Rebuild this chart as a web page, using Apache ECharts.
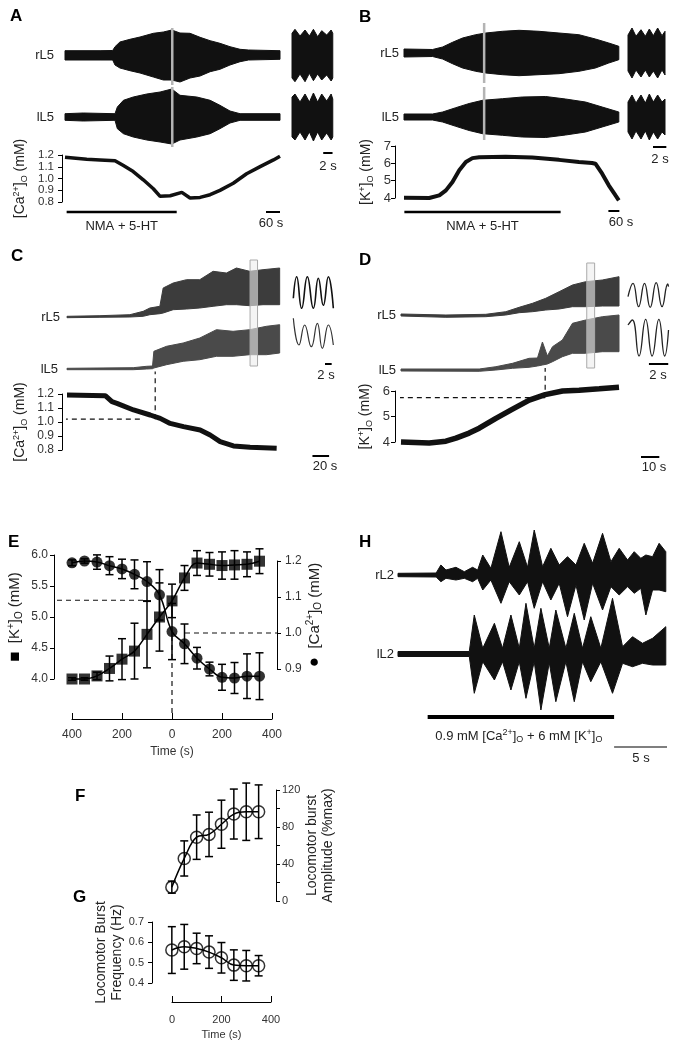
<!DOCTYPE html>
<html><head><meta charset="utf-8">
<script src="https://cdn.jsdelivr.net/npm/echarts/dist/echarts.min.js"></script>
<style>html,body{margin:0;padding:0;background:#fff}#c{width:692px;height:1048px}</style>
</head><body><div id="c"></div>
<script>
const FONT = "'Liberation Sans', Arial, Helvetica, sans-serif";

// ---------- Panel A (time s; trace amplitudes in arbitrary units) ----------
const A_rL5_t = [0,150,204,214,235,278,321,378,421,457,492,535,578,621,663,706,749,785,920];
const A_rL5_hi = [4.3,4.3,4.5,8.3,13,15.7,18,21.7,23,25,22,21.7,17.7,14.3,11.7,8.3,5.7,5,4.3];
const A_rL5_lo = [-5,-5,-5,-10,-13,-15.7,-18,-22,-25,-25,-27,-23,-21,-16.7,-14.3,-10,-6.7,-5,-4.3];
const A_lL5_t = [0,78,214,224,250,292,350,407,457,492,564,621,663,706,749,920];
const A_lL5_hi = [3.3,4,3.3,10,16.7,20,23,25,28,21.7,20,16.7,11.7,6,3.3,3.3];
const A_lL5_lo = [-3.3,-4,-3.3,-11.7,-16.7,-20,-23,-25,-27,-23,-20,-16.7,-11.7,-6,-3.3,-3.3];
const A_inset_t = [0,0.64,1.72,2.8,3.73,4.6,5.5,6.38,7.45,8.4,8.75];
const A_rIn_hi = [21.7,25.7,19,25,19,25.7,18.3,24.3,20,25,21.7];
const A_rIn_lo = [-23,-26.7,-19,-26.7,-18.3,-25.7,-19,-25,-20,-26,-23];
const A_lIn_hi = [20,23,15,23,15,24,15,23,16,23,18];
const A_lIn_lo = [-20,-23,-15,-23,-15,-24,-15,-23,-16,-23,-20];
const A_gray_t = 459;
const A_ca_t = [0,93,150,214,250,292,335,378,407,450,500,535,578,621,663,720,777,835,892,920];
const A_ca = [1.18,1.163,1.158,1.152,1.11,1.059,0.989,0.913,0.848,0.853,0.882,0.834,0.839,0.862,0.899,0.96,1.04,1.101,1.158,1.19];
const A_caTicks = [0.8,0.9,1.0,1.1,1.2];
const A_drug = [7, 478];

// ---------- Panel B ----------
const B_rL5_t = [0,156,211,265,320,392,447,538,629,738,847,956,1046,1119,1174];
const B_rL5_hi = [4,3.5,6,10.7,15,18.3,20,21.7,22.7,21.7,20,18.3,14,10,6.7];
const B_rL5_lo = [-4,-3.5,-6,-10.7,-15,-18.3,-20,-21.7,-22.7,-21.7,-20.7,-18.3,-15,-10,-6.7];
const B_lL5_t = [0,156,211,283,356,429,538,647,774,883,992,1083,1174];
const B_lL5_hi = [3,3,5,9.3,13.5,16.7,18.3,20,20.5,18,15,10,5];
const B_lL5_lo = [-3,-3,-5,-9.3,-13.5,-16.7,-18.3,-20,-20.5,-18,-15,-10,-5];
const B_inset_t = [0,0.6,1.2,1.95,2.6,3.2,3.8,4.45,5.1,5.55];
const B_rIn_hi = [18,25,16.7,23.3,16.7,24,17.3,25,17.3,21.7];
const B_rIn_lo = [-18,-25,-17,-24,-17,-24,-18,-25,-17,-22];
const B_lIn_hi = [15,22,14,22,14,23,15,22,15,18];
const B_lIn_lo = [-15,-22,-14,-22,-14,-23,-15,-22,-15,-18];
const B_gray_t = 438;
const B_k_t = [0,138,193,229,265,302,338,374,411,556,701,847,956,1028,1046,1083,1119,1156,1174];
const B_k = [4.02,4.0,4.15,4.44,4.92,5.6,6.08,6.3,6.35,6.38,6.33,6.2,6.08,6.02,5.98,5.4,4.73,4.15,3.87];
const B_drug = [2, 856];

// ---------- Panel C ----------
const C_rL5_t = [0,39.6,75.6,91.6,99.6,111.6,115.6,127.6,143.6,159.6,175.6,191.6,203.6,219.6,235.6,255.6];
const C_rL5_hi = [0.7,1.3,2.3,5.7,9,10.7,29,34,37.3,37.3,45.7,44,49,45.7,47.3,49];
const C_rL5_lo = [-0.7,-0.3,0,0.7,2.3,3.3,4,7.3,8,9,10.7,12.3,12.3,11.3,12.3,12.3];
const C_lL5_t = [0,79.6,95.6,102.8,104.4,119.6,139.6,159.6,179.6,199.6,219.6,239.6,255.6];
const C_lL5_hi = [0.7,1.3,2.7,3,17.7,22.7,26,31,39.3,37.7,39.3,42.7,44.3];
const C_lL5_lo = [-0.7,-0.7,0,0.3,1,4.3,7.7,9.3,12.7,12.7,14.3,14.3,16];
const C_rIn_t = [0.1,1.1,2.6,4.3,6.1,7.6,9.1,10.6,12.1];
const C_rIn = [18.7,40.3,8.7,40.3,8.7,38.7,11.7,40.3,8.7];
const C_lIn_t = [0.1,1.8,3.5,5.5,7.3,8.8,10.6,12.1];
const C_lIn = [50.7,24,44,22.3,45.7,20.7,44,24];
const C_box = [220, 229];
const C_ca_t = [0,46,54,60,80,100,112,124,140,160,172,184,200,220,252];
const C_ca = [1.193,1.188,1.145,1.133,1.086,1.05,1.026,0.99,0.967,0.943,0.907,0.86,0.829,0.819,0.812];
const C_mark = [106, 1.02];

// ---------- Panel D ----------
const D_rL5_t = [0,24.5,46.3,57.2,64.5,71.8,79,86.3,93.6,100.8,109.9,119];
const D_rL5_hi = [1,0,0.7,3.3,7.7,11.7,16.7,23.3,30,33.3,35,38.3];
const D_rL5_lo = [-1,-2.3,-1.7,0,2.3,3.3,5,6,8.3,8.3,9,9];
const D_lL5_t = [0,42.7,51.8,60.9,69.9,74.5,77.2,79.9,82.7,88.1,93.6,100.8,109.9,119];
const D_lL5_hi = [1,1,3.3,6.7,11.7,12,28,14,23.3,30,46.7,50,53.3,55];
const D_lL5_lo = [-1,-1.3,0,1.7,2.7,4,5,6,8.3,13.3,16.7,16.7,18.3,18.3];
const D_rIn_t = [0,0.52,1.1,1.71,2.3,2.92,3.53,4.12,4.2];
const D_rIn = [18.3,31.7,8.3,31.7,7.7,32.3,8.3,31,28.3];
const D_lIn_t = [0,0.45,1.14,1.83,2.5,3.2,3.8,4.2];
const D_lIn = [45,50,14,50.7,14,50.7,14,40];
const D_box = [101.4, 105.7];
const D_k_t = [0,15.4,24.5,30,37.2,42.7,51.8,60.9,70,78.7,88.2,97.2,108.2,119];
const D_k = [4.0,3.96,4.03,4.15,4.35,4.54,4.93,5.29,5.64,5.86,6.0,6.03,6.09,6.15];
const D_mark = [78.7, 5.74];

// ---------- Panel E ----------
const E_time = [-400,-350,-300,-250,-200,-150,-100,-50,0,50,100,150,200,250,300,350];
const E_k = [4.00,4.00,4.05,4.17,4.32,4.45,4.72,5.00,5.26,5.63,5.87,5.85,5.83,5.84,5.85,5.90];
const E_kErr = [0.02,0.02,0.06,0.2,0.33,0.45,0.54,0.55,0.27,0.2,0.2,0.19,0.22,0.23,0.2,0.2];
const E_ca = [1.195,1.2,1.197,1.187,1.178,1.163,1.143,1.106,1.004,0.97,0.93,0.9,0.877,0.875,0.88,0.88];
const E_caErr = [0.008,0.006,0.02,0.025,0.027,0.04,0.055,0.07,0.078,0.055,0.03,0.019,0.036,0.043,0.062,0.065];
const E_kRef = [-100, 5.27];
const E_caRef = [52, 1.0];
const E_xTicks = [-400,-200,0,200,400];

// ---------- Panels F, G ----------
const FG_time = [0,50,100,150,200,250,300,350];
const F_amp = [15,46,69,72,83,94,96.5,96.5];
const F_ampErr = [6.5,19,24,24,26,27,31,29];
const G_freq = [0.562,0.578,0.57,0.552,0.524,0.488,0.485,0.485];
const G_freqErr = [0.115,0.11,0.075,0.08,0.075,0.075,0.075,0.05];

// ---------- Panel H ----------
const H_r_t = [0,3.6,4.05,4.53,5.47,6.26,7.04,7.52,8.0,8.77,9.72,10.5,11.45,12.23,12.86,13.65,14.43,15.22,16.0,16.8,17.58,18.37,19.31,20.1,20.88,21.67,22.3,22.92,23.4,24.03,24.65,25.28];
const H_r_hi = [1.7,2,10,5,7.7,3.3,7.7,5,20,6.7,43.3,7.7,33.3,7.7,45,8.3,26.7,10,18.3,10,31.7,11.7,41.7,13.3,26.7,15,23.3,16.7,20,18.3,31.7,23.3];
const H_r_lo = [-1.7,-2,-6.7,-3.3,-5,-3.3,-6.7,-3.3,-15,-5,-28.3,-6.7,-20,-6.7,-33.3,-6.7,-25,-8.3,-41.7,-10,-45,-8.3,-35,-11.7,-20,-11.7,-18.3,-13.3,-40,-15,-15,-16.7];
const H_l_t = [0,6.73,7.2,8.0,9.1,9.87,10.66,11.45,12.08,12.86,13.49,14.28,14.9,15.85,16.64,17.42,18.2,19.15,20.25,21.2,22.14,23.08,24.03,25.28];
const H_l_hi = [2.5,2.5,39,5.7,30.7,5.7,39,5.7,50.7,5.7,45.7,5.7,44,5.7,40.7,5.7,37.3,5.7,55.7,7.3,17.3,10.7,15.7,27.3];
const H_l_lo = [-2.5,-2.5,-39.3,-7.7,-26,-7.7,-36,-7.7,-44.3,-7.7,-56,-8.7,-47.7,-7.7,-47.7,-7.7,-27.7,-7.7,-39.3,-9.3,-12.7,-9.3,-11,-11];
const H_drug = [2.8, 20.4];

// ================= helpers =================
function dm(a,b){const o=Object.assign({},a);for(const k in b){const v=b[k];if(v&&typeof v==='object'&&!Array.isArray(v)&&a[k]&&typeof a[k]==='object'&&!Array.isArray(a[k]))o[k]=dm(a[k],v);else o[k]=v;}return o;}
function rich(s){return {
  n:{fontSize:s,fontFamily:FONT,color:'#222',lineHeight:s+3},
  p:{fontSize:Math.round(s*0.66),fontFamily:FONT,color:'#222',lineHeight:Math.round(s*0.66),verticalAlign:'top'},
  b:{fontSize:Math.round(s*0.66),fontFamily:FONT,color:'#222',lineHeight:Math.round(s*0.66),verticalAlign:'bottom'},
  sq:{fontSize:s+2,fontFamily:FONT,color:'#000',lineHeight:s+3}};}
const CA_NAME = '{n|[Ca}{p|2+}{n|]}{b|O}{n| (mM)}';
const K_NAME = '{n|[K}{p|+}{n|]}{b|O}{n| (mM)}';
const HID = (a,b)=>({type:'value',show:false,min:a,max:b,splitLine:{show:false},axisLine:{onZero:false}});
const YV = {type:'value',show:true,splitLine:{show:false},
  axisLine:{show:true,onZero:false,lineStyle:{color:'#000',width:1}},
  axisTick:{show:true,length:4,lineStyle:{color:'#000',width:1}},
  axisLabel:{show:true,color:'#333',fontSize:12,fontFamily:FONT,margin:6,showMinLabel:true,showMaxLabel:true,hideOverlap:false},
  nameLocation:'middle',nameRotate:90,nameTextStyle:{fontFamily:FONT,color:'#222',fontSize:14,rich:rich(14)}};
const fix1 = v=>v.toFixed(1);

const G = [];
function grid(l,t,w,h,xa,ya){G.push({l,t,w,h,xa,ya});return G.length-1;}

// A
const gAr = grid(65,25,215,60,HID(0,920),HID(-30,30));
const gAl = grid(65,87,215,60,HID(0,920),HID(-30,30));
const gAri = grid(292,25,41,60,HID(0,8.8),HID(-30,30));
const gAli = grid(292,87,41,60,HID(0,8.8),HID(-30,30));
const gAca = grid(65,155,215,47,HID(0,920),dm(YV,{min:0.8,max:1.2,interval:0.1,offset:3,
  axisLabel:{show:false},name:CA_NAME,nameGap:33}));
// B
const gBr = grid(404,23,215,60,HID(0,1175),HID(-30,30));
const gBl = grid(404,87,215,60,HID(0,1175),HID(-30,30));
const gBri = grid(628,23,37,60,HID(0,5.55),HID(-30,30));
const gBli = grid(628,87,37,60,HID(0,5.55),HID(-30,30));
const gBk = grid(404,146,215,52,HID(0,1175),dm(YV,{min:4,max:7,interval:1,offset:9,axisLabel:{margin:4,fontSize:13},name:K_NAME,nameGap:20}));
// C
const gCr = grid(67,267,213,60,HID(0,256),HID(-10,50));
const gCl = grid(67,319,213,60,HID(0,256),HID(-10,50));
const gCri = grid(293,267,40,60,HID(0,12),HID(-10,50));
const gCli = grid(293,319,40,60,HID(0,12),HID(-10,50));
const gCca = grid(67,394,213,56,HID(0,256),dm(YV,{min:0.8,max:1.2,interval:0.1,offset:5,axisLabel:{formatter:fix1,margin:8},name:CA_NAME,nameGap:33}));
// D
const gDr = grid(401,265,218,60,HID(0,119),HID(-10,50));
const gDl = grid(401,310,218,70,HID(0,119),HID(-10,60));
const gDri = grid(628,265,41,60,HID(0,4.25),HID(-10,50));
const gDli = grid(628,310,41,70,HID(0,4.25),HID(-10,60));
const gDk = grid(401,391,218,51,HID(0,119),dm(YV,{min:4,max:6,interval:1,offset:6,axisLabel:{margin:5,fontSize:13},name:K_NAME,nameGap:21}));
// E
const gEk = grid(54,555,223,124,HID(-472,420),dm(YV,{min:4,max:6,interval:0.5,axisLabel:{formatter:fix1,margin:6},
  name:'{sq|■}{n|  [K}{p|+}{n|]}{b|O}{n| (mM)}',nameGap:30,nameTextStyle:{fontSize:15,rich:rich(15)}}));
const gEca = grid(54,561,223,108,HID(-472,420),dm(YV,{position:'right',min:0.9,max:1.2,interval:0.1,axisLabel:{formatter:fix1,margin:8},
  name:'{sq|●}{n|  [Ca}{p|2+}{n|]}{b|O}{n| (mM)}',nameGap:27,nameTextStyle:{fontSize:15,rich:rich(15)}}));
const gEt = grid(72,718,200,1,{type:'value',show:true,min:E_xTicks[0],max:E_xTicks[E_xTicks.length-1],interval:200,position:'bottom',
  splitLine:{show:false},axisLine:{show:true,onZero:false,lineStyle:{color:'#000'}},axisTick:{show:true,inside:true,length:6,lineStyle:{color:'#000'}},
  axisLabel:{formatter:v=>String(Math.abs(v)),color:'#333',fontSize:12,fontFamily:FONT,margin:10},
  name:'Time (s)',nameLocation:'middle',nameGap:27,nameTextStyle:{fontSize:12,fontFamily:FONT,color:'#333'}},HID(0,1));
// F, G
const gF = grid(152,790,124,111,HID(-80,420),dm(YV,{position:'right',min:0,max:120,interval:20,
  axisLabel:{formatter:v=>(v%40===0?String(v):''),fontSize:11,margin:6},
  name:'Locomotor burst\nAmplitude (%max)',nameGap:25,nameTextStyle:{fontSize:14,lineHeight:16,rich:{}}}));
const gG = grid(152,922,124,61,HID(-80,420),dm(YV,{min:0.4,max:0.7,interval:0.1,axisLabel:{formatter:fix1,fontSize:11,margin:8},
  name:'Locomotor Burst\nFrequency (Hz)',nameGap:26,nameTextStyle:{fontSize:14,lineHeight:16,rich:{}}}));
const gGt = grid(172,1001,99,1,{type:'value',show:true,min:0,max:400,interval:200,position:'bottom',
  splitLine:{show:false},axisLine:{show:true,onZero:false,lineStyle:{color:'#000'}},axisTick:{show:true,inside:true,length:6,lineStyle:{color:'#000'}},
  axisLabel:{color:'#333',fontSize:11,fontFamily:FONT,margin:12},
  name:'Time (s)',nameLocation:'middle',nameGap:27,nameTextStyle:{fontSize:11,fontFamily:FONT,color:'#333'}},HID(0,1));
// H
const gHr = grid(398,535,268,80,HID(0,25.3),HID(-40,40));
const gHl = grid(398,614,268,80,HID(0,25.3),HID(-40,40));

// ================= series =================
const S = [];
function env(gi,t,hi,lo,color){
  S.push({type:'custom',xAxisIndex:gi,yAxisIndex:gi,clip:false,silent:true,data:[[t[0],0]],
    renderItem(params,api){const pts=[];
      for(let i=0;i<t.length;i++)pts.push(api.coord([t[i],hi[i]]));
      for(let i=t.length-1;i>=0;i--)pts.push(api.coord([t[i],lo[i]]));
      return {type:'polygon',shape:{points:pts},style:{fill:color,stroke:color,lineWidth:1,lineJoin:'round'}};}});
}
function line(gi,t,v,o){S.push(dm({type:'line',xAxisIndex:gi,yAxisIndex:gi,data:t.map((x,i)=>[x,v[i]]),symbol:'none',clip:false,silent:true,
  lineStyle:{color:'#000',width:1.5}},o||{}));}
function dashed(gi,p0,p1){line(gi,[p0[0],p1[0]],[p0[1],p1[1]],{lineStyle:{type:[5,4],width:1.2,color:'#111'}});}
function err(gi,t,m,e){
  S.push({type:'custom',xAxisIndex:gi,yAxisIndex:gi,clip:false,silent:true,data:t.map((x,i)=>[x,m[i]-e[i],m[i]+e[i]]),encode:{x:0,y:[1,2]},
    renderItem(params,api){const x=api.value(0);const a=api.coord([x,api.value(1)]),b=api.coord([x,api.value(2)]);
      const st={stroke:'#000',lineWidth:1.5};
      return {type:'group',children:[
        {type:'line',shape:{x1:a[0],y1:a[1],x2:b[0],y2:b[1]},style:st},
        {type:'line',shape:{x1:a[0]-4,y1:a[1],x2:a[0]+4,y2:a[1]},style:st},
        {type:'line',shape:{x1:b[0]-4,y1:b[1],x2:b[0]+4,y2:b[1]},style:st}]};}});
}
function marks(gi,t,v,symbol,filled){
  S.push({type:'scatter',xAxisIndex:gi,yAxisIndex:gi,clip:false,silent:true,data:t.map((x,i)=>[x,v[i]]),symbol,symbolSize:filled?11:12,
    itemStyle:filled?{color:'#000'}:{color:'rgba(0,0,0,0)',borderColor:'#000',borderWidth:1.5},z:5});
}

// A
env(gAr,A_rL5_t,A_rL5_hi,A_rL5_lo,'#111');
env(gAl,A_lL5_t,A_lL5_hi,A_lL5_lo,'#111');
env(gAri,A_inset_t,A_rIn_hi,A_rIn_lo,'#111');
env(gAli,A_inset_t,A_lIn_hi,A_lIn_lo,'#111');
line(gAr,[A_gray_t,A_gray_t],[-30,27],{lineStyle:{color:'#b4b4b4',width:2.5}});
line(gAl,[A_gray_t,A_gray_t],[-30,30],{lineStyle:{color:'#b4b4b4',width:2.5}});
line(gAca,A_ca_t,A_ca,{lineStyle:{width:3.5,color:'#111'}});
// B
env(gBr,B_rL5_t,B_rL5_hi,B_rL5_lo,'#111');
env(gBl,B_lL5_t,B_lL5_hi,B_lL5_lo,'#111');
env(gBri,B_inset_t,B_rIn_hi,B_rIn_lo,'#111');
env(gBli,B_inset_t,B_lIn_hi,B_lIn_lo,'#111');
line(gBr,[B_gray_t,B_gray_t],[-30,30],{lineStyle:{color:'#b4b4b4',width:2.5}});
line(gBl,[B_gray_t,B_gray_t],[-23,30],{lineStyle:{color:'#b4b4b4',width:2.5}});
line(gBk,B_k_t,B_k,{lineStyle:{width:4,color:'#111'}});
// C
env(gCr,C_rL5_t,C_rL5_hi,C_rL5_lo,'#3c3c3c');
env(gCl,C_lL5_t,C_lL5_hi,C_lL5_lo,'#4a4a4a');
line(gCri,C_rIn_t,C_rIn,{smooth:0.5,lineStyle:{width:1.6,color:'#111'}});
line(gCli,C_lIn_t,C_lIn,{smooth:0.5,lineStyle:{width:1.2,color:'#333'}});
line(gCca,C_ca_t,C_ca,{lineStyle:{width:5,color:'#111'}});
dashed(gCca,[-5,C_mark[1]],[88,C_mark[1]]);
dashed(gCca,[C_mark[0],C_mark[1]],[C_mark[0],1.36]);
// D
env(gDr,D_rL5_t,D_rL5_hi,D_rL5_lo,'#3c3c3c');
env(gDl,D_lL5_t,D_lL5_hi,D_lL5_lo,'#4a4a4a');
line(gDri,D_rIn_t,D_rIn,{smooth:0.5,lineStyle:{width:1.3,color:'#222'}});
line(gDli,D_lIn_t,D_lIn,{smooth:0.5,lineStyle:{width:1.3,color:'#222'}});
line(gDk,D_k_t,D_k,{lineStyle:{width:5.5,color:'#111'}});
dashed(gDk,[-11,D_mark[1]],[D_mark[0],D_mark[1]]);
dashed(gDk,[D_mark[0],6.05],[D_mark[0],6.9]);
// E
dashed(gEk,[0,3.45],[0,4.68]);
dashed(gEk,[-460,E_kRef[1]],[E_kRef[0],E_kRef[1]]);
dashed(gEca,[E_caRef[0],E_caRef[1]],[420,E_caRef[1]]);
line(gEk,E_time,E_k,{smooth:0.4});
line(gEca,E_time,E_ca,{smooth:0.4});
err(gEk,E_time,E_k,E_kErr);
err(gEca,E_time,E_ca,E_caErr);
marks(gEk,E_time,E_k,'rect',true);
marks(gEca,E_time,E_ca,'circle',true);
// F, G
line(gF,FG_time,F_amp,{smooth:0.4});
err(gF,FG_time,F_amp,F_ampErr);
marks(gF,FG_time,F_amp,'circle',false);
line(gG,FG_time,G_freq,{smooth:0.4});
err(gG,FG_time,G_freq,G_freqErr);
marks(gG,FG_time,G_freq,'circle',false);
// H
env(gHr,H_r_t,H_r_hi,H_r_lo,'#111');
env(gHl,H_l_t,H_l_hi,H_l_lo,'#111');

const chart = echarts.init(document.getElementById('c'),null,{renderer:'canvas'});
chart.setOption({
  animation:false, backgroundColor:'#fff',
  grid:G.map(g=>({left:g.l,top:g.t,width:g.w,height:g.h,containLabel:false,outerBoundsMode:'none'})),
  xAxis:G.map((g,i)=>Object.assign({gridIndex:i},g.xa)),
  yAxis:G.map((g,i)=>Object.assign({gridIndex:i},g.ya)),
  series:S
});

// ================= annotations =================
const px = (gi,t)=>chart.convertToPixel({xAxisIndex:gi},t);
const py = (gi,v)=>chart.convertToPixel({yAxisIndex:gi},v);
const gr = [];
function txt(x,y,text,o){gr.push({type:'text',x,y,silent:true,z:50,style:Object.assign({text,fontFamily:FONT,fontSize:13,fill:'#222',
  align:'left',verticalAlign:'middle',textAlign:'left',textVerticalAlign:'middle'},o||{})});}
function hline(x1,x2,y,w){gr.push({type:'line',silent:true,z:50,shape:{x1,y1:y,x2,y2:y},style:{stroke:'#000',lineWidth:w}});}
const C_='center', R_='right';
// A [Ca] tick labels (dense axis: drawn from the axis scale so none are auto-hidden)
A_caTicks.forEach(v=>txt(54,py(gAca,v),v.toFixed(1),{align:R_,textAlign:R_,fontSize:11.5,fill:'#333'}));
// panel letters
[['A',10,16],['B',359,17],['C',11,256],['D',359,260],['E',8,542],['H',359,542],['F',75,796],['G',73,897]]
  .forEach(a=>txt(a[1],a[2],a[0],{fontSize:17,fontWeight:'bold',fill:'#000'}));
// trace names
[['rL5',54,55],['lL5',54,117],['rL5',399,53],['lL5',399,117],['rL5',60,317],['lL5',58,369],['rL5',396,315],['lL5',396,370],['rL2',394,575],['lL2',394,654]]
  .forEach(a=>txt(a[1],a[2],a[0],{align:R_,textAlign:R_}));
// drug bars
[[gAca,A_drug,212,2.5],[gBk,B_drug,212,2.5],[gHr,H_drug,717,4]].forEach(b=>hline(px(b[0],b[1][0]),px(b[0],b[1][1]),b[2],b[3]));
txt((px(gAca,A_drug[0])+px(gAca,A_drug[1]))/2,226,'NMA + 5-HT',{align:C_,textAlign:C_});
txt((px(gBk,B_drug[0])+px(gBk,B_drug[1]))/2,226,'NMA + 5-HT',{align:C_,textAlign:C_});
txt((px(gHr,H_drug[0])+px(gHr,H_drug[1]))/2-2,736,'{a|0.9 mM [Ca}{p|2+}{a|]}{b|O}{a| + 6 mM [K}{p|+}{a|]}{b|O}',
  {align:C_,textAlign:C_,rich:{a:{fontSize:13,fontFamily:FONT,fill:'#222',color:'#222',lineHeight:16},
    p:{fontSize:9,fontFamily:FONT,color:'#222',lineHeight:9,verticalAlign:'top'},
    b:{fontSize:9,fontFamily:FONT,color:'#222',lineHeight:9,verticalAlign:'bottom'}}});
// scale bars
const SB = [
  [gAri,6.7,2,153,2,'2 s',328,166],[gAca,860,60,212,2,'60 s',271,223],
  [gBri,3.75,2,147,2,'2 s',660,159],[gBk,1117,60,211,2,'60 s',621,222],
  [gCri,9.6,2,364,2,'2 s',326,375],[gCca,295,20,456,2,'20 s',325,466],
  [gDri,2.17,2,364,2,'2 s',658,375],[gDk,131,10,457,2,'10 s',654,467],
  [gHr,20.4,5,747,1.2,'5 s',641,758]];
SB.forEach(s=>{hline(px(s[0],s[1]),px(s[0],s[1]+s[2]),s[3],s[4]);txt(s[6],s[7],s[5],{align:C_,textAlign:C_});});
// highlighted time windows (C, D)
[[gCr,C_box,260,366],[gDr,D_box,263,368]].forEach(b=>{const x0=px(b[0],b[1][0]),x1=px(b[0],b[1][1]);
  gr.push({type:'rect',silent:true,z:40,shape:{x:x0,y:b[2],width:x1-x0,height:b[3]-b[2]},style:{fill:'rgba(236,236,236,0.6)',stroke:'#aaa',lineWidth:1}});});
chart.setOption({graphic:gr});
</script></body></html>
